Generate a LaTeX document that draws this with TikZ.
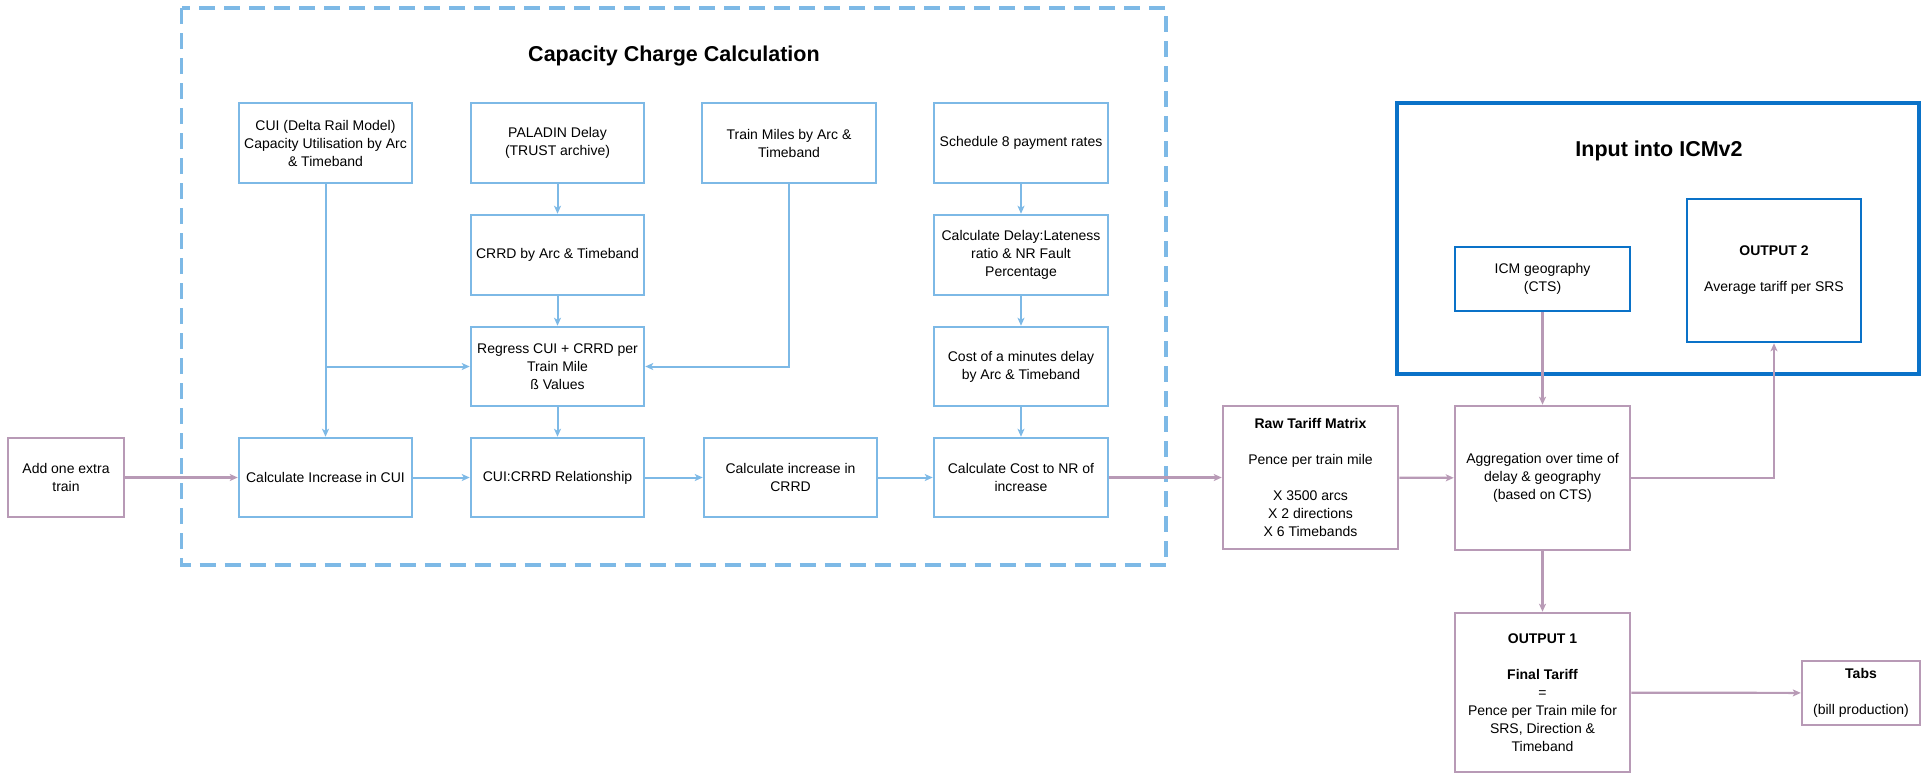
\documentclass[tikz,border=0pt]{standalone}
\usepackage{fontspec}
\setmainfont{Liberation Sans}
\usetikzlibrary{arrows.meta}
\definecolor{calcblue}{RGB}{125,185,230}
\definecolor{icmblue}{RGB}{10,114,200}
\definecolor{tariffpink}{RGB}{184,154,182}
\tikzset{
  box/.style={draw, line width=2.5pt, rectangle, inner sep=0pt, align=center,
    font=\fontsize{14}{18}\selectfont},
  calcbox/.style={box, draw=calcblue},
  pinkbox/.style={box, draw=tariffpink},
  icmbox/.style={box, draw=icmblue},
  tip/.style={-{Stealth[length=8pt,width=7pt,inset=2pt]}},
  calcarrow/.style={tip, draw=calcblue, line width=2pt},
  pinkarrow/.style={tip, draw=tariffpink, line width=2.2pt},
  heading/.style={font=\fontsize{21.5}{26}\selectfont\bfseries, inner sep=0pt},
}
\begin{document}
\begin{tikzpicture}[x=1pt, y=-1pt]
\useasboundingbox (0,0) rectangle (1926,777);

% capacity charge calculation frame
\draw[calcblue, line width=3.5pt, dash pattern=on 16pt off 9pt] (181.5,8) rectangle (1166,565);
\node[heading] (ttlcap) at (674,56) {Capacity Charge Calculation};

% ICMv2 input frame
\draw[icmblue, line width=4pt] (1397,103) rectangle (1919,374);
\node[heading] (ttlicm) at (1659,151) {Input into ICMv2};

% upper rows of the calculation
\node[calcbox, minimum width=173pt, minimum height=80pt] (cui) at (325.5,143)
  {CUI (Delta Rail Model)\\Capacity Utilisation by Arc\\\& Timeband};
\node[calcbox, minimum width=173pt, minimum height=80pt] (pal) at (557.5,143)
  {PALADIN Delay\\(TRUST archive)};
\node[calcbox, minimum width=174pt, minimum height=80pt] (tm) at (789,143)
  {Train Miles by Arc \&\\Timeband};
\node[calcbox, minimum width=174pt, minimum height=80pt] (sch) at (1021,143)
  {Schedule 8 payment rates};
\node[calcbox, minimum width=173pt, minimum height=80pt] (crrd) at (557.5,255)
  {CRRD by Arc \& Timeband};
\node[calcbox, minimum width=174pt, minimum height=80pt] (cdl) at (1021,255)
  {Calculate Delay:Lateness\\ratio \& NR Fault\\Percentage};
\node[calcbox, minimum width=173pt, minimum height=79pt] (reg) at (557.5,366.5)
  {Regress CUI + CRRD per\\Train Mile\\ß Values};
\node[calcbox, minimum width=174pt, minimum height=79pt] (cmd) at (1021,366.5)
  {Cost of a minutes delay\\by Arc \& Timeband};

% bottom row
\node[pinkbox, minimum width=116pt, minimum height=79pt] (add) at (66,477.5)
  {Add one extra\\train};
\node[calcbox, minimum width=173pt, minimum height=79pt] (ciu) at (325.5,477.5)
  {Calculate Increase in CUI};
\node[calcbox, minimum width=173pt, minimum height=79pt] (rel) at (557.5,477.5)
  {CUI:CRRD Relationship};
\node[calcbox, minimum width=173pt, minimum height=79pt] (cic) at (790.5,477.5)
  {Calculate increase in\\CRRD};
\node[calcbox, minimum width=174pt, minimum height=79pt] (cost) at (1021,477.5)
  {Calculate Cost to NR of\\increase};

% tariff side
\node[pinkbox, minimum width=175pt, minimum height=143pt] (raw) at (1310.5,477.5)
  {\textbf{Raw Tariff Matrix}\\[18pt]Pence per train mile\\[18pt]X 3500 arcs\\X 2 directions\\X 6 Timebands};
\node[pinkbox, minimum width=175pt, minimum height=144pt] (agg) at (1542.5,478)
  {Aggregation over time of\\delay \& geography\\(based on CTS)};
\node[icmbox, minimum width=175pt, minimum height=64pt] (icm) at (1542.5,279)
  {ICM geography\\(CTS)};
\node[icmbox, minimum width=174pt, minimum height=143pt] (out2) at (1774,270.5)
  {\textbf{OUTPUT 2}\\[18pt]Average tariff per SRS};
\node[pinkbox, minimum width=175pt, minimum height=159pt] (out1) at (1542.5,692.5)
  {\textbf{OUTPUT 1}\\[18pt]\textbf{Final Tariff}\\=\\Pence per Train mile for\\SRS, Direction \&\\Timeband};
\node[pinkbox, minimum width=118pt, minimum height=64pt] (tabs) at (1861,693)
  {\textbf{Tabs}\\[18pt](bill production)};

% calculation connectors
\coordinate (cuijoin) at (cui.south |- reg.west);
\draw[calcarrow] (cui.south) -- (ciu.north);
\draw[calcarrow] (cuijoin) -- (reg.west);
\draw[calcarrow] (tm.south) |- (reg.east);
\draw[calcarrow] (pal) -- (crrd);
\draw[calcarrow] (crrd) -- (reg);
\draw[calcarrow] (reg) -- (rel);
\draw[calcarrow] (sch) -- (cdl);
\draw[calcarrow] (cdl) -- (cmd);
\draw[calcarrow] (cmd) -- (cost);
\draw[calcarrow] (ciu) -- (rel);
\draw[calcarrow] (rel) -- (cic);
\draw[calcarrow] (cic) -- (cost);

% tariff connectors
\draw[pinkarrow] (add) -- (ciu);
\draw[pinkarrow] (cost) -- (raw);
\draw[pinkarrow] (raw) -- (agg);
\draw[pinkarrow] (icm) -- (agg);
\draw[pinkarrow] (agg.east) -| (out2.south);
\draw[pinkarrow] (agg) -- (out1);
\draw[pinkarrow] (out1) -- (tabs);
\end{tikzpicture}
\end{document}
